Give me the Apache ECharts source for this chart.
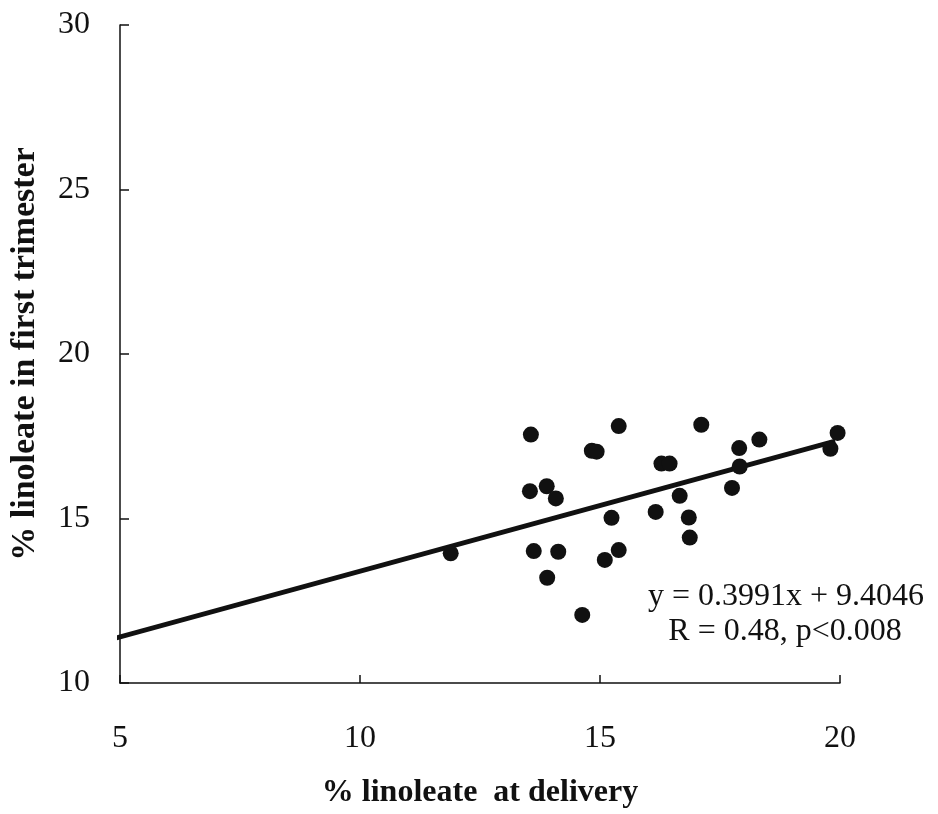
<!DOCTYPE html>
<html>
<head>
<meta charset="utf-8">
<script src="https://cdn.jsdelivr.net/npm/echarts@6/dist/echarts.min.js"></script>
<style>
html,body{margin:0;padding:0;background:#fff;}
#chart{width:938px;height:814px;}
</style>
</head>
<body>
<div id="chart"></div>
<script>
// Data
var deliveryX = [11.89, 13.56, 13.54, 13.89, 14.08, 13.62, 14.13, 13.90, 14.63, 14.83, 14.93, 15.39, 15.24, 15.10, 15.39,
                 16.16, 16.28, 16.45, 16.66, 16.85, 16.87, 17.11, 17.75, 17.90, 17.91, 18.32, 19.80, 19.95];
var trimesterY = [13.94, 17.55, 15.83, 15.98, 15.61, 14.01, 13.99, 13.20, 12.07, 17.06, 17.03, 17.81, 15.02, 13.74, 14.04,
                  15.20, 16.67, 16.67, 15.69, 15.03, 14.42, 17.85, 15.93, 17.14, 16.58, 17.40, 17.12, 17.60];
var fitLineX = [4.9, 19.9];
var fitLineY = [11.36, 17.35];
var xTicks = [5, 10, 15, 20];
var yTicks = [10, 15, 20, 25, 30];
var xTitle = '% linoleate  at delivery';
var yTitle = '% linoleate in first trimester';
var eqText = 'y = 0.3991x + 9.4046';
var statText = 'R = 0.48, p<0.008';

var points = deliveryX.map(function (x, i) { return [x, trimesterY[i]]; });
var fitLine = fitLineX.map(function (x, i) { return [x, fitLineY[i]]; });

var serif = '"Liberation Serif", "DejaVu Serif", serif';
var ink = '#111111';

var chart = echarts.init(document.getElementById('chart'), null, {renderer: 'canvas'});
chart.setOption({
  animation: false,
  backgroundColor: '#ffffff',
  grid: {left: 113, right: 98, top: 25, bottom: 129, containLabel: false},
  xAxis: {
    type: 'value', min: xTicks[0], max: xTicks[xTicks.length - 1], interval: 5,
    name: xTitle, nameLocation: 'middle', nameGap: 94,
    nameTextStyle: {fontFamily: serif, fontWeight: 'bold', fontSize: 32, color: ink},
    axisLine: {onZero: false, lineStyle: {color: ink, width: 1.5}},
    axisTick: {inside: true, length: 8, lineStyle: {color: ink, width: 1.5}},
    axisLabel: {margin: 40, fontFamily: serif, fontSize: 32, color: ink},
    splitLine: {show: false}
  },
  yAxis: {
    type: 'value', min: yTicks[0], max: yTicks[yTicks.length - 1], interval: 5,
    name: yTitle, nameLocation: 'middle', nameGap: 78, nameRotate: 90,
    nameTextStyle: {fontFamily: serif, fontWeight: 'bold', fontSize: 34, color: ink},
    axisLine: {onZero: false, lineStyle: {color: ink, width: 1.5}},
    axisTick: {inside: true, length: 9, lineStyle: {color: ink, width: 1.5}},
    axisLabel: {margin: 30, fontFamily: serif, fontSize: 32, color: ink},
    splitLine: {show: false}
  },
  series: [
    {
      type: 'line', data: fitLine, symbol: 'none', silent: true,
      lineStyle: {color: ink, width: 5}, z: 2
    },
    {
      type: 'scatter', data: points, symbol: 'circle', symbolSize: 16,
      itemStyle: {color: ink, opacity: 1}, z: 3
    }
  ],
  graphic: [
    {type: 'text', x: 786, y: 597, style: {text: eqText, font: '32px ' + serif, fill: ink, align: 'center', verticalAlign: 'middle'}},
    {type: 'text', x: 785, y: 632, style: {text: statText, font: '32px ' + serif, fill: ink, align: 'center', verticalAlign: 'middle'}}
  ]
});
</script>
</body>
</html>
